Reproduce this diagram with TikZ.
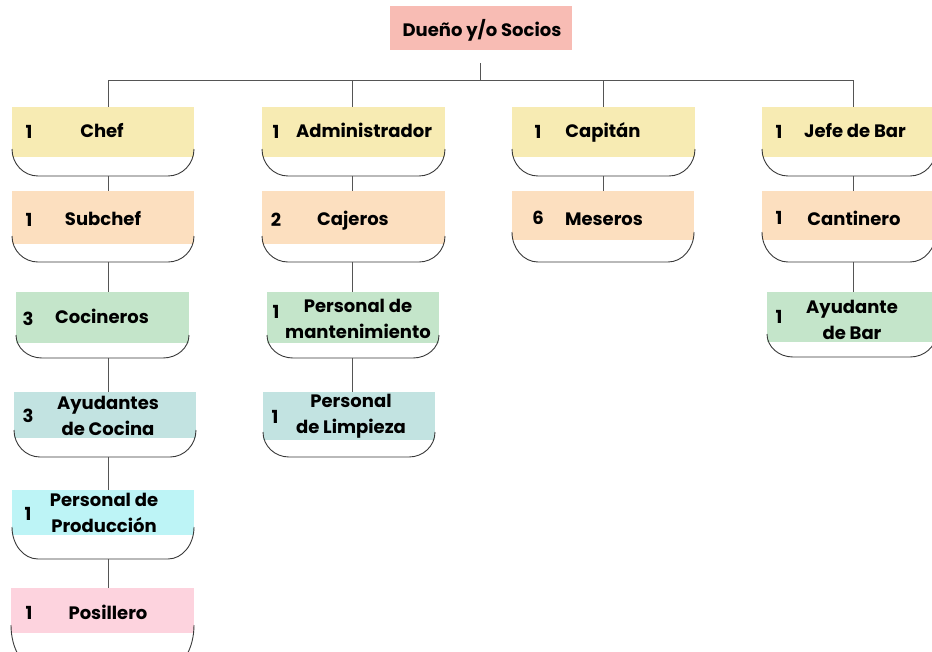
\documentclass[tikz,border=0pt]{standalone}
\usepackage{fontspec}
\setmainfont{Poppins}
\definecolor{cSalmon}{HTML}{F8BCB4}
\definecolor{cYellow}{HTML}{F7EBB3}
\definecolor{cPeach}{HTML}{FCDFBF}
\definecolor{cGreen}{HTML}{C4E5CA}
\definecolor{cTeal}{HTML}{C2E3E1}
\definecolor{cCyan}{HTML}{BDF4F6}
\definecolor{cPink}{HTML}{FDD3DE}
\definecolor{lineC}{HTML}{3A3A3A}
\definecolor{connC}{HTML}{555555}
\tikzset{
  rectbox/.style={inner sep=0pt, outer sep=0pt, draw=none},
  outl/.style={draw=lineC, line width=0.9pt},
  conn/.style={draw=connC, line width=0.9pt},
  lbl/.style={anchor=base, font=\bfseries\fontsize{18}{26}\selectfont, text=black, inner sep=0pt, align=center},
}
% #1 name, #2 x1, #3 x2, #4 y top, #5 y rect bottom, #6 y outline bottom, #7 colour
\newcommand\card[7]{%
  \node[rectbox, fill=#7, minimum width={#3-#2}, minimum height={#5-#4}] (#1) at ({(#2+#3)/2},{(#4+#5)/2}) {};
  \draw[outl] ({#2},{#5-8}) arc[start angle=180,end angle=90,x radius=26,y radius={#6-#5+8}]
     -- ({#3-26},#6) arc[start angle=90,end angle=0,x radius=26,y radius={#6-#5+8}];
  \coordinate (#1o) at ({(#2+#3)/2},#6);
}
\begin{document}
\begin{tikzpicture}[x=1pt,y=-1pt]
\useasboundingbox (0,0) rectangle (932,651);
\clip (0,0) rectangle (932,651);
\fill[white] (0,0) rectangle (932,651);

% column axes
\coordinate (c1) at (108,0);
\coordinate (c2) at (352,0);
\coordinate (c3) at (603,0);
\coordinate (c4) at (853,0);
\coordinate (bus) at (0,80);
\coordinate (stub) at (480,63);

% top
\node[rectbox, fill=cSalmon, minimum width=182, minimum height=44] (dueno) at (481,28) {};
\node[lbl] (duenoT) at (482,36) {Dueño y/o Socios};

% column 1
\card{chef}{12}{194}{107}{157}{176}{cYellow}
\card{subchef}{12}{194}{191}{244}{262}{cPeach}
\card{cocin}{16}{189}{292}{343}{358}{cGreen}
\card{ayud}{14}{196}{392}{438}{457}{cTeal}
\card{prod}{12}{194}{490}{535}{559}{cCyan}
\card{posi}{11}{194}{588}{633}{668}{cPink}

% column 2
\card{admin}{262}{445}{107}{157}{176}{cYellow}
\card{caje}{262}{445}{191}{244}{262}{cPeach}
\card{mant}{267}{439}{292}{343}{358}{cGreen}
\card{limp}{263}{435}{392}{440}{457}{cTeal}

% column 3
\card{capi}{512}{695}{107}{157}{176}{cYellow}
\card{mese}{512}{694}{191}{240}{262}{cPeach}

% column 4
\card{jefe}{762}{936}{107}{157}{176}{cYellow}
\card{cant}{762}{936}{191}{240}{262}{cPeach}
\card{ayub}{767}{936}{292}{342}{357}{cGreen}

% labels
\node[lbl] (chefT) at (102,137) {Chef};
\node[lbl] (chefN) at (29,138) {1};
\node[lbl] (subchefT) at (103,225) {Subchef};
\node[lbl] (subchefN) at (29,226) {1};
\node[lbl] (cocinT) at (102,323) {Cocineros};
\node[lbl] (cocinN) at (28,325) {3};
\node[lbl] (ayudT) at (108,435) {Ayudantes\\de Cocina};
\node[lbl] (ayudN) at (28,422) {3};
\node[lbl] (prodT) at (104,532) {Personal de\\Producción};
\node[lbl] (prodN) at (28,520) {1};
\node[lbl] (posiT) at (108,619) {Posillero};
\node[lbl] (posiN) at (29,619) {1};

\node[lbl] (adminT) at (364,137) {Administrador};
\node[lbl] (adminN) at (276,138) {1};
\node[lbl] (cajeT) at (353,225) {Cajeros};
\node[lbl] (cajeN) at (276,226) {2};
\node[lbl] (mantT) at (358,338) {Personal de\\mantenimiento};
\node[lbl] (mantN) at (276,318) {1};
\node[lbl] (limpT) at (351,433) {Personal\\de Limpieza};
\node[lbl] (limpN) at (275,423) {1};

\node[lbl] (capiT) at (603,137) {Capitán};
\node[lbl] (capiN) at (538,138) {1};
\node[lbl] (meseT) at (604,225) {Meseros};
\node[lbl] (meseN) at (538,224) {6};

\node[lbl] (jefeT) at (855,137) {Jefe de Bar};
\node[lbl] (jefeN) at (779,138) {1};
\node[lbl] (cantT) at (854,225) {Cantinero};
\node[lbl] (cantN) at (779,224) {1};
\node[lbl] (ayubT) at (852,339) {Ayudante\\de Bar};
\node[lbl] (ayubN) at (779,323) {1};

% connectors
\draw[conn] (stub) -- (stub |- bus);
\draw[conn] (c1 |- bus) -- (c4 |- bus);
\draw[conn] (c1 |- bus) -- (chef.north -| c1);
\draw[conn] (c2 |- bus) -- (admin.north -| c2);
\draw[conn] (c3 |- bus) -- (capi.north -| c3);
\draw[conn] (c4 |- bus) -- (jefe.north -| c4);

\draw[conn] (chefo -| c1) -- (subchef.north -| c1);
\draw[conn] (subchefo -| c1) -- (cocin.north -| c1);
\draw[conn] (cocino -| c1) -- (ayud.north -| c1);
\draw[conn] (ayudo -| c1) -- (prod.north -| c1);
\draw[conn] (prodo -| c1) -- (posi.north -| c1);

\draw[conn] (admino -| c2) -- (caje.north -| c2);
\draw[conn] (cajeo -| c2) -- (mant.north -| c2);
\draw[conn] (manto -| c2) -- (limp.north -| c2);

\draw[conn] (capio -| c3) -- (mese.north -| c3);

\draw[conn] (jefeo -| c4) -- (cant.north -| c4);
\draw[conn] (canto -| c4) -- (ayub.north -| c4);
\end{tikzpicture}
\end{document}
